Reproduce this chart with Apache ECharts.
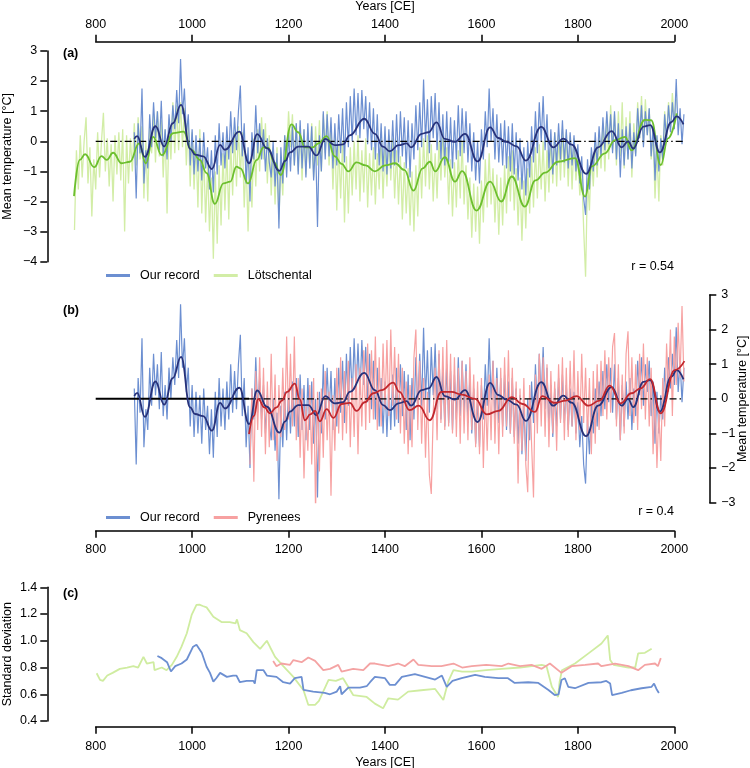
<!DOCTYPE html>
<html><head><meta charset="utf-8">
<script src="https://cdn.jsdelivr.net/npm/echarts@6/dist/echarts.min.js"></script>
<style>html,body{margin:0;padding:0;background:#fff}#c{width:750px;height:768px}</style>
</head><body><div id="c"></div>
<script>
// ---------------- DATA ----------------
const xTicks = [800, 1000, 1200, 1400, 1600, 1800, 2000];

// Our record, annual values [year, °C]
const ourRecordAnnual = [[880,0.3],[884,-1.9],[888,0.6],[892,-0.4],[896,1.75],[900,-1.4],[904,-0.3],[908,-0.9],[912,0.9],[916,-0.2],
[920,1.3],[924,0.1],[928,1.0],[932,-0.3],[936,1.35],[940,-0.5],[944,0.4],[948,-0.6],[952,0.9],[956,0.0],
[960,1.2],[964,0.4],[968,1.7],[972,0.6],[976,2.73],[980,0.9],[984,1.75],[988,0.2],[992,0.9],[996,-0.8],
[1000,0.4],[1004,-1.1],[1008,0.2],[1012,-1.0],[1016,0.1],[1020,-1.3],[1024,0.3],[1028,-0.9],[1032,-0.2],[1036,-1.6],
[1040,-0.3],[1044,-1.7],[1048,0.2],[1052,-1.1],[1056,0.6],[1060,-0.8],[1064,0.3],[1068,-0.9],[1072,0.5],[1076,-0.6],
[1080,1.0],[1084,-0.4],[1088,0.8],[1092,-0.3],[1096,1.0],[1100,1.85],[1104,-0.5],[1108,0.6],[1112,-1.4],[1116,-0.2],
[1120,-2.0],[1124,0.3],[1128,-0.6],[1132,1.2],[1136,-0.4],[1140,0.6],[1144,-0.6],[1148,0.4],[1152,-1.0],[1156,0.1],
[1160,-0.7],[1164,-1.2],[1168,0.0],[1172,-1.5],[1176,-0.4],[1180,-2.9],[1184,-0.2],[1188,-1.4],[1192,0.2],[1196,-1.2],
[1200,0.3],[1204,-1.0],[1208,0.5],[1212,-0.8],[1216,0.6],[1220,-1.1],[1224,0.7],[1228,-0.9],[1232,0.4],[1236,-1.2],
[1240,0.6],[1244,-0.9],[1248,0.5],[1252,-1.3],[1256,0.0],[1260,-2.85],[1264,0.2],[1268,-1.0],[1272,1.0],[1276,-0.6],
[1280,0.9],[1284,-0.5],[1288,0.8],[1292,-0.9],[1296,0.6],[1300,-0.8],[1304,0.9],[1308,-0.4],[1312,1.1],[1316,-0.7],
[1320,1.3],[1324,-0.2],[1328,1.5],[1332,0.0],[1336,1.75],[1340,0.2],[1344,1.6],[1348,0.1],[1352,1.7],[1356,0.4],
[1360,1.5],[1364,-0.1],[1368,1.3],[1372,-0.3],[1376,1.1],[1380,-0.6],[1384,0.9],[1388,-0.8],[1392,0.6],[1396,-1.0],
[1400,0.5],[1404,-1.1],[1408,0.4],[1412,-0.9],[1416,0.7],[1420,-0.8],[1424,0.9],[1428,-0.7],[1432,1.0],[1436,-0.5],
[1440,0.8],[1444,-0.9],[1448,0.7],[1452,-1.2],[1456,0.6],[1460,-0.6],[1464,1.2],[1468,-0.3],[1472,1.3],[1476,-0.2],
[1480,2.05],[1484,0.0],[1488,1.4],[1492,-0.4],[1496,1.5],[1500,0.1],[1504,1.6],[1508,-0.3],[1512,1.3],[1516,-0.6],
[1520,0.9],[1524,-0.8],[1528,1.0],[1532,-0.7],[1536,0.8],[1540,-0.9],[1544,0.7],[1548,-0.6],[1552,1.2],[1556,-0.5],
[1560,1.1],[1564,-0.4],[1568,1.0],[1572,-0.7],[1576,0.6],[1580,-1.0],[1584,0.3],[1588,-1.3],[1592,0.0],[1596,-1.4],
[1600,0.4],[1604,-0.6],[1608,1.0],[1612,-0.2],[1616,1.75],[1620,0.0],[1624,1.1],[1628,-0.6],[1632,0.9],[1636,-0.7],
[1640,0.6],[1644,-0.8],[1648,0.7],[1652,-0.9],[1656,0.5],[1660,-1.0],[1664,0.6],[1668,-1.1],[1672,0.3],[1676,-1.3],
[1680,0.1],[1684,-1.6],[1688,-0.2],[1692,-1.8],[1696,0.0],[1700,-1.2],[1704,0.5],[1708,-0.7],[1712,1.0],[1716,-0.4],
[1720,1.3],[1724,0.0],[1728,1.5],[1732,-0.3],[1736,0.9],[1740,-0.9],[1744,0.4],[1748,-1.1],[1752,0.3],[1756,-0.8],
[1760,0.6],[1764,-0.6],[1768,0.7],[1772,-0.7],[1776,0.4],[1780,-0.9],[1784,0.3],[1788,-0.8],[1792,0.2],[1796,-1.0],
[1800,-0.1],[1804,-1.4],[1808,-0.5],[1812,-1.9],[1816,-2.45],[1820,-0.6],[1824,-1.6],[1828,-0.2],[1832,-1.0],[1836,0.3],
[1840,-0.8],[1844,0.5],[1848,-0.5],[1852,0.8],[1856,-0.3],[1860,1.0],[1864,-0.1],[1868,0.9],[1872,-0.4],[1876,1.0],
[1880,-0.6],[1884,0.6],[1888,-1.2],[1892,0.4],[1896,-0.8],[1900,0.5],[1904,-0.6],[1908,0.6],[1912,-0.9],[1916,0.3],
[1920,-0.5],[1924,1.1],[1928,0.1],[1932,1.2],[1936,-0.2],[1940,1.0],[1944,0.2],[1948,1.1],[1952,-0.5],[1956,0.5],
[1960,-1.3],[1964,0.2],[1968,-1.0],[1972,0.1],[1976,-0.6],[1980,0.9],[1984,0.0],[1988,1.2],[1992,0.3],[1996,1.3],
[2000,0.4],[2004,2.07],[2008,0.2],[2012,1.1],[2016,-0.1],[2020,0.9]];

// Our record, smoothed
const ourRecordSmooth = [[880,0.08],[886,0.17],[902,-0.52],[924,0.5],[942,-0.17],[960,0.6],[977,1.21],[996,-0.25],[1006,-0.44],[1023,-0.5],
[1041,-0.92],[1058,-0.12],[1068,-0.28],[1098,0.32],[1118,-0.73],[1135,0.24],[1155,-0.23],[1181,-0.98],[1193,-0.65],[1203,-0.37],
[1220,-0.18],[1241,-0.18],[1258,-0.47],[1276,0.08],[1296,-0.13],[1313,-0.1],[1327,0.2],[1357,0.75],[1379,0.25],[1396,-0.18],
[1410,-0.33],[1428,-0.13],[1445,-0.07],[1454,-0.2],[1476,0.25],[1490,0.3],[1507,0.63],[1524,0.08],[1545,-0.02],[1566,0.25],
[1592,-0.67],[1618,0.46],[1635,0.11],[1652,-0.02],[1673,-0.17],[1692,-0.64],[1724,0.48],[1749,-0.2],[1770,0.09],[1787,-0.11],
[1817,-1.08],[1842,-0.2],[1870,0.34],[1891,-0.2],[1904,0.0],[1915,-0.24],[1936,0.49],[1950,0.54],[1970,-0.37],[1994,0.64],
[2005,0.83],[2019,0.56]];

// Lötschental, annual
const loetschentalAnnual = [[756,-2.95],[760,-0.3],[764,-1.6],[768,0.2],[772,-1.2],[776,0.0],[780,0.8],[784,-1.4],[788,-0.2],[792,-2.5],
[796,-0.6],[800,-1.6],[804,0.3],[808,-1.2],[812,0.0],[816,0.95],[820,-1.0],[824,0.1],[828,-1.5],[832,-0.1],
[836,-2.0],[840,0.2],[844,-1.1],[848,0.3],[852,-1.3],[856,0.4],[860,-3.0],[864,0.2],[868,-1.4],[872,0.1],
[876,-1.0],[880,0.6],[884,-0.8],[888,0.8],[892,-0.6],[896,0.5],[900,-1.9],[904,0.0],[908,-2.0],[912,0.6],
[916,-0.4],[920,0.9],[924,-0.7],[928,1.0],[932,-0.5],[936,0.7],[940,-1.2],[944,0.4],[948,-2.4],[952,0.5],
[956,-0.6],[960,1.3],[964,-0.4],[968,1.2],[972,-0.3],[976,1.3],[980,-0.2],[984,1.1],[988,-0.8],[992,0.6],
[996,-1.5],[1000,0.3],[1004,-1.6],[1008,0.0],[1012,-2.2],[1016,0.4],[1020,-2.4],[1024,-0.3],[1028,-2.7],[1032,-0.8],
[1036,-3.0],[1040,-1.2],[1044,-3.9],[1048,-1.0],[1052,-3.4],[1056,-0.8],[1060,-2.8],[1064,-0.4],[1068,-2.3],[1072,-0.2],
[1076,-2.6],[1080,0.0],[1084,-1.8],[1088,0.3],[1092,-1.5],[1096,0.5],[1100,-1.2],[1104,0.3],[1108,-2.2],[1112,-0.6],
[1116,-3.0],[1120,-0.7],[1124,-2.2],[1128,0.1],[1132,-1.5],[1136,0.4],[1140,-1.0],[1144,0.8],[1148,-0.6],[1152,0.6],
[1156,-1.4],[1160,0.2],[1164,-1.8],[1168,-0.3],[1172,-2.1],[1176,-0.2],[1180,-2.6],[1184,-0.7],[1188,-1.8],[1192,0.2],
[1196,-0.6],[1200,1.0],[1204,-0.2],[1208,0.9],[1212,-0.8],[1216,0.6],[1220,-1.0],[1224,0.5],[1228,-1.3],[1232,0.4],
[1236,-1.1],[1240,0.3],[1244,-0.9],[1248,0.6],[1252,-1.2],[1256,0.5],[1260,-0.8],[1264,0.7],[1268,-1.0],[1272,0.9],
[1276,-0.4],[1280,1.0],[1284,-0.8],[1288,0.5],[1292,-1.6],[1296,0.2],[1300,-2.3],[1304,-0.1],[1308,-1.9],[1312,0.0],
[1316,-2.7],[1320,-0.5],[1324,-2.4],[1328,-0.2],[1332,-1.8],[1336,0.0],[1340,-1.6],[1344,0.2],[1348,-2.0],[1352,-0.3],
[1356,-1.7],[1360,0.1],[1364,-2.2],[1368,-0.4],[1372,-1.8],[1376,-0.2],[1380,-2.1],[1384,-0.4],[1388,-1.6],[1392,0.1],
[1396,-1.9],[1400,-0.2],[1404,-1.5],[1408,0.2],[1412,-1.3],[1416,0.1],[1420,-1.9],[1424,-0.3],[1428,-2.1],[1432,-0.5],
[1436,-2.6],[1440,-0.7],[1444,-2.4],[1448,-0.9],[1452,-2.8],[1456,-1.0],[1460,-3.0],[1464,-0.8],[1468,-2.5],[1472,-0.2],
[1476,-1.9],[1480,0.1],[1484,-1.5],[1488,0.2],[1492,-1.6],[1496,-0.1],[1500,-2.0],[1504,-0.4],[1508,-1.9],[1512,0.0],
[1516,-1.3],[1520,0.3],[1524,-1.2],[1528,-0.2],[1532,-2.1],[1536,-0.6],[1540,-2.5],[1544,-0.7],[1548,-2.2],[1552,-0.3],
[1556,-1.9],[1560,0.0],[1564,-2.1],[1568,-0.8],[1572,-2.6],[1576,-1.2],[1580,-3.2],[1584,-1.4],[1588,-3.0],[1592,-1.5],
[1596,-3.4],[1600,-1.3],[1604,-2.7],[1608,-0.6],[1612,-2.2],[1616,-0.4],[1620,-2.1],[1624,-0.9],[1628,-2.7],[1632,-1.1],
[1636,-3.1],[1640,-1.2],[1644,-2.8],[1648,-0.8],[1652,-2.4],[1656,-0.5],[1660,-2.0],[1664,-0.3],[1668,-2.3],[1672,-0.9],
[1676,-2.8],[1680,-1.2],[1684,-3.3],[1688,-1.3],[1692,-2.9],[1696,-0.9],[1700,-2.4],[1704,-0.5],[1708,-2.2],[1712,-0.2],
[1716,-1.9],[1720,-0.1],[1724,-1.6],[1728,0.0],[1732,-2.0],[1736,-0.3],[1740,-1.7],[1744,0.1],[1748,-1.4],[1752,0.3],
[1756,-1.5],[1760,0.2],[1764,-1.3],[1768,0.4],[1772,-1.2],[1776,0.3],[1780,-1.5],[1784,0.2],[1788,-1.6],[1792,0.1],
[1796,-1.3],[1800,-0.4],[1804,-1.8],[1808,-1.0],[1812,-2.9],[1816,-4.5],[1820,-1.2],[1824,-2.3],[1828,-0.4],[1832,-1.5],
[1836,0.0],[1840,-1.2],[1844,0.3],[1848,-0.9],[1852,0.6],[1856,-1.0],[1860,0.9],[1864,-0.6],[1868,1.2],[1872,-0.3],
[1876,0.9],[1880,-0.8],[1884,1.0],[1888,-0.5],[1892,1.3],[1896,-0.9],[1900,0.8],[1904,-0.6],[1908,1.0],[1912,-1.2],
[1916,0.6],[1920,-0.4],[1924,1.3],[1928,0.1],[1932,1.5],[1936,-0.1],[1940,1.4],[1944,0.2],[1948,1.1],[1952,-0.6],
[1956,0.3],[1960,-1.9],[1964,-0.3],[1968,-2.0],[1972,0.2],[1976,-0.8],[1980,1.0],[1984,0.2],[1988,1.3],[1992,0.4],
[1996,1.6],[2000,0.6],[2004,1.4]];

// Lötschental, smoothed
const loetschentalSmooth = [[755,-1.82],[767,-0.62],[778,-0.43],[797,-0.86],[812,-0.49],[823,-0.62],[836,-0.38],[854,-0.73],[871,-0.68],[890,-0.07],
[904,-0.73],[919,0.15],[937,-0.46],[961,0.27],[982,0.32],[999,-0.29],[1016,-0.62],[1030,-1.06],[1047,-2.08],[1065,-1.4],
[1079,-1.34],[1092,-0.84],[1100,-0.9],[1116,-1.4],[1134,-0.62],[1148,-0.2],[1158,-0.22],[1170,-0.7],[1184,-1.12],[1206,0.56],
[1220,0.3],[1234,-0.2],[1250,-0.2],[1262,-0.07],[1279,0.17],[1296,-0.5],[1310,-0.75],[1324,-1.0],[1341,-0.7],[1360,-0.8],
[1379,-1.0],[1400,-0.8],[1421,-0.73],[1440,-0.95],[1459,-1.64],[1478,-0.9],[1493,-0.68],[1504,-1.0],[1524,-0.53],[1545,-1.34],
[1560,-0.99],[1590,-2.3],[1618,-1.34],[1641,-2.0],[1663,-1.17],[1690,-2.17],[1712,-1.3],[1732,-1.04],[1759,-0.68],[1794,-0.56],
[1815,-1.84],[1829,-0.83],[1856,-0.4],[1877,0.04],[1898,0.15],[1911,-0.3],[1939,0.71],[1952,0.7],[1972,-0.79],[1987,0.1],
[2005,0.93]];

// Pyrenees, annual
const pyreneesAnnual = [[1120,-1.9],[1124,0.3],[1128,-2.4],[1132,0.8],[1136,-0.9],[1140,1.2],[1144,-1.1],[1148,0.9],[1152,-1.6],[1156,0.5],
[1160,-1.4],[1164,1.3],[1168,-1.2],[1172,0.7],[1176,-1.8],[1180,0.4],[1184,-1.1],[1188,0.9],[1192,-0.9],[1196,1.8],
[1200,-0.6],[1204,1.3],[1208,-0.8],[1212,1.8],[1216,-1.2],[1220,0.6],[1224,-1.7],[1228,0.3],[1232,-2.3],[1236,-0.2],
[1240,-1.5],[1244,0.4],[1248,-1.9],[1252,0.6],[1256,-3.3],[1260,0.2],[1264,-2.1],[1268,0.3],[1272,-1.7],[1276,0.8],
[1280,-1.2],[1284,0.2],[1288,-2.8],[1292,0.1],[1296,-1.5],[1300,0.9],[1304,-1.0],[1308,1.2],[1312,-1.2],[1316,0.8],
[1320,-1.0],[1324,1.1],[1328,-1.4],[1332,0.6],[1336,-1.1],[1340,1.0],[1344,-1.6],[1348,0.9],[1352,-0.8],[1356,1.4],
[1360,-0.9],[1364,1.6],[1368,-0.7],[1372,1.4],[1376,-0.6],[1380,1.8],[1384,-0.9],[1388,1.2],[1392,-0.8],[1396,1.6],
[1400,-0.3],[1404,1.7],[1408,-0.5],[1412,2.0],[1416,-0.2],[1420,1.5],[1424,-0.6],[1428,1.3],[1432,-1.0],[1436,0.9],
[1440,-1.3],[1444,0.5],[1448,-1.6],[1452,0.4],[1456,-1.4],[1460,1.2],[1464,2.0],[1468,-0.9],[1472,1.1],[1476,-1.3],
[1480,0.6],[1484,-1.7],[1488,0.2],[1492,-2.2],[1496,-2.75],[1500,-0.4],[1504,0.9],[1508,-1.2],[1512,1.4],[1516,-0.7],
[1520,1.5],[1524,-0.9],[1528,1.7],[1532,-0.8],[1536,1.3],[1540,-1.0],[1544,1.2],[1548,-1.1],[1552,0.9],[1556,-1.3],
[1560,1.1],[1564,-1.0],[1568,0.8],[1572,-1.2],[1576,1.2],[1580,-0.9],[1584,0.7],[1588,-1.4],[1592,0.5],[1596,-1.6],
[1600,0.6],[1604,-2.0],[1608,0.2],[1612,-1.5],[1616,0.7],[1620,-1.2],[1624,1.1],[1628,-1.3],[1632,0.6],[1636,-1.6],
[1640,0.9],[1644,-1.1],[1648,1.2],[1652,-0.8],[1656,1.4],[1660,-1.0],[1664,0.9],[1668,-1.3],[1672,0.5],[1676,-2.45],
[1680,0.3],[1684,-1.5],[1688,0.6],[1692,-1.9],[1696,-2.7],[1700,0.4],[1704,-1.3],[1708,-2.85],[1712,0.7],[1716,-1.0],
[1720,1.3],[1724,-0.8],[1728,1.2],[1732,-1.1],[1736,1.0],[1740,-1.4],[1744,0.8],[1748,-1.0],[1752,0.5],[1756,-1.5],
[1760,1.0],[1764,-0.7],[1768,1.2],[1772,-1.2],[1776,0.9],[1780,-1.1],[1784,1.1],[1788,-0.8],[1792,1.4],[1796,-1.2],
[1800,0.8],[1804,-0.9],[1808,1.3],[1812,-0.7],[1816,0.9],[1820,-1.1],[1824,0.6],[1828,-1.6],[1832,0.8],[1836,-1.3],
[1840,1.0],[1844,-0.9],[1848,1.1],[1852,-0.5],[1856,1.4],[1860,-0.6],[1864,1.2],[1868,-0.4],[1872,1.5],[1876,1.9],
[1880,-0.8],[1884,1.0],[1888,-1.2],[1892,0.7],[1896,-1.0],[1900,1.3],[1904,1.95],[1908,-0.5],[1912,1.2],[1916,-0.7],
[1920,1.0],[1924,-0.9],[1928,1.3],[1932,-0.3],[1936,1.6],[1940,-0.6],[1944,1.2],[1948,-0.8],[1952,0.9],[1956,-1.6],
[1960,0.2],[1964,-2.0],[1968,-0.3],[1972,-1.8],[1976,0.6],[1980,-0.8],[1984,1.6],[1988,0.2],[1992,2.0],[1996,-0.5],
[2000,1.8],[2004,0.4],[2008,2.2],[2012,0.6],[2016,2.68],[2020,0.5]];

// Pyrenees, smoothed
const pyreneesSmooth = [[1118,-1.02],[1128,-0.5],[1137,0.0],[1150,-0.25],[1161,-0.42],[1175,-0.25],[1186,-0.05],[1197,0.2],[1213,0.44],[1223,0.0],
[1234,-0.62],[1245,-0.45],[1255,-0.35],[1265,-0.65],[1279,-0.3],[1293,-0.55],[1310,-0.15],[1327,-0.12],[1341,-0.35],[1358,-0.1],
[1376,0.16],[1393,0.25],[1417,0.47],[1430,0.2],[1451,-0.33],[1470,-0.2],[1493,-0.62],[1517,0.2],[1538,0.2],[1559,0.12],
[1587,0.0],[1611,-0.45],[1635,-0.35],[1663,0.05],[1685,-0.15],[1711,-0.38],[1726,0.08],[1752,-0.12],[1775,-0.05],[1797,0.08],
[1822,-0.2],[1845,-0.05],[1866,0.38],[1889,-0.13],[1911,0.16],[1930,0.3],[1950,0.57],[1972,-0.42],[2001,0.83],[2021,1.09]];

// Zero reference lines (years)
const zeroLineA = [[800,0],[2020,0]];
const zeroSolidB = [[800,0],[1118,0]];
const zeroDashB = [[1118,0],[2020,0]];

// Panel (c): running standard deviation
const sdOurRecord = [[928,0.886],[937,0.87],[948,0.84],[956,0.77],[965,0.81],[978,0.83],[989,0.86],[1002,0.956],[1009,0.97],[1020,0.91],
[1030,0.806],[1037,0.76],[1044,0.694],[1050,0.72],[1058,0.76],[1072,0.73],[1085,0.74],[1092,0.74],[1099,0.69],[1113,0.70],
[1127,0.70],[1130,0.68],[1134,0.78],[1148,0.78],[1155,0.74],[1175,0.73],[1189,0.69],[1203,0.68],[1213,0.72],[1227,0.73],
[1231,0.632],[1251,0.62],[1275,0.61],[1286,0.60],[1300,0.62],[1307,0.66],[1310,0.60],[1324,0.65],[1348,0.65],[1362,0.66],
[1369,0.69],[1379,0.73],[1400,0.72],[1410,0.67],[1421,0.67],[1435,0.73],[1462,0.75],[1483,0.73],[1504,0.71],[1518,0.74],
[1528,0.656],[1540,0.70],[1559,0.72],[1587,0.745],[1607,0.73],[1635,0.72],[1655,0.72],[1669,0.685],[1697,0.69],[1718,0.685],
[1739,0.632],[1752,0.594],[1760,0.60],[1766,0.707],[1773,0.72],[1780,0.656],[1794,0.645],[1822,0.685],[1849,0.69],[1859,0.70],
[1867,0.68],[1871,0.594],[1891,0.61],[1910,0.63],[1932,0.645],[1953,0.656],[1958,0.68],[1963,0.64],[1968,0.61]];

const sdLoetschental = [[802,0.757],[809,0.707],[815,0.70],[824,0.74],[835,0.76],[850,0.79],[865,0.80],[878,0.81],[888,0.80],[899,0.88],
[906,0.83],[920,0.84],[922,0.78],[937,0.80],[947,0.78],[958,0.82],[968,0.88],[978,0.956],[989,1.056],[999,1.193],
[1009,1.268],[1015,1.27],[1022,1.26],[1030,1.25],[1044,1.18],[1061,1.14],[1078,1.14],[1090,1.13],[1093,1.16],[1099,1.08],
[1113,1.056],[1127,0.99],[1141,0.94],[1155,1.0],[1162,0.95],[1172,0.88],[1189,0.81],[1210,0.73],[1231,0.63],[1241,0.52],
[1255,0.52],[1263,0.55],[1283,0.707],[1298,0.70],[1313,0.72],[1334,0.594],[1362,0.58],[1379,0.53],[1396,0.495],[1407,0.57],
[1427,0.56],[1448,0.62],[1475,0.63],[1504,0.64],[1521,0.557],[1531,0.694],[1542,0.78],[1560,0.77],[1580,0.77],[1610,0.78],
[1642,0.79],[1680,0.80],[1725,0.82],[1735,0.81],[1746,0.656],[1759,0.58],[1762,0.69],[1767,0.78],[1794,0.83],[1822,0.906],
[1849,0.98],[1862,1.04],[1867,0.856],[1874,0.82],[1905,0.80],[1919,0.80],[1925,0.906],[1939,0.91],[1953,0.94]];

const sdPyrenees = [[1168,0.849],[1175,0.81],[1185,0.83],[1203,0.82],[1210,0.856],[1227,0.84],[1241,0.875],[1255,0.85],[1272,0.78],[1286,0.79],
[1303,0.82],[1310,0.77],[1334,0.79],[1355,0.78],[1369,0.83],[1379,0.83],[1407,0.81],[1427,0.83],[1441,0.81],[1459,0.86],
[1469,0.82],[1497,0.81],[1517,0.81],[1542,0.83],[1560,0.80],[1580,0.81],[1610,0.82],[1642,0.81],[1656,0.83],[1680,0.81],
[1704,0.82],[1725,0.79],[1742,0.83],[1766,0.76],[1787,0.81],[1815,0.82],[1842,0.83],[1849,0.81],[1877,0.83],[1905,0.81],
[1925,0.78],[1939,0.82],[1960,0.83],[1966,0.81],[1972,0.87]];

const corrA = 'r = 0.54';
const corrB = 'r = 0.4';

// ---------------- LAYOUT / STYLE ----------------
const FONT = '"Liberation Sans", Arial, Helvetica, sans-serif';
const C = {
  blue: '#6c8fd1', blueDark: '#27327a',
  green: '#d2eda6', greenDark: '#6cbf2e',
  pink: '#f7a1a1', redDark: '#c1272d',
  sdGreen: '#cfeca0', sdRed: '#f4a3a3'
};
const PX_PER_YEAR = 578.6 / 1200;
const X800 = 95.7;
const XMIN = 745, XMAX = 2030;
const dataLeft = X800 - (800 - XMIN) * PX_PER_YEAR;
const dataWidth = (XMAX - XMIN) * PX_PER_YEAR;
const AX_W = 578.6;

const gBase = {containLabel: false, outerBoundsMode: 'none'};
const grids = [
  {left: dataLeft, width: dataWidth, top: 51, height: 7.6 * 30.1},   // 0 A data (-4.6..3)
  {left: X800, width: AX_W, top: 51, height: 210.7},                 // 1 A axes
  {left: dataLeft, width: dataWidth, top: 295, height: 207.6},       // 2 B data
  {left: X800, width: AX_W, top: 295, height: 207.6},                // 3 B axes
  {left: dataLeft, width: dataWidth, top: 587.3, height: 133.7},     // 4 C data
  {left: X800, width: AX_W, top: 587.3, height: 133.7}               // 5 C axes
].map(g => Object.assign({}, gBase, g));

const axisLine = {show: true, onZero: false, lineStyle: {color: '#000', width: 1.5}};
const axisTick = {show: true, length: 7, lineStyle: {color: '#000', width: 1.5}};
const lbl = (m, fmt) => ({show: true, color: '#000', fontSize: 12.5, fontFamily: FONT, margin: m, formatter: fmt, showMinLabel: true, showMaxLabel: true, hideOverlap: false});
const minusFmt = v => String(v).replace('-', '\u2212');
const plainFmt = v => String(v);
const hiddenX = {type: 'value', show: false, min: XMIN, max: XMAX};
const nameStyle = {color: '#000', fontSize: 12.5, fontFamily: FONT};
const nm = (name, gap) => ({name, nameLocation: 'middle', nameGap: gap, nameTextStyle: nameStyle, nameMoveOverlap: false});

const xAxis = [
  Object.assign({gridIndex: 0}, hiddenX),
  Object.assign({gridIndex: 1, type: 'value', position: 'top', offset: 9.3, min: 800, max: 2000, interval: 200,
   axisLine, axisTick, axisLabel: lbl(11, plainFmt), splitLine: {show: false}}, nm('Years [CE]', 29)),
  Object.assign({gridIndex: 2}, hiddenX),
  {gridIndex: 3, type: 'value', position: 'bottom', offset: 28.1, min: 800, max: 2000, interval: 200,
   axisLine, axisTick, axisLabel: lbl(12, plainFmt), splitLine: {show: false}},
  Object.assign({gridIndex: 4}, hiddenX),
  Object.assign({gridIndex: 5, type: 'value', position: 'bottom', offset: 5.7, min: 800, max: 2000, interval: 200,
   axisLine, axisTick, axisLabel: lbl(13, plainFmt), splitLine: {show: false}}, nm('Years [CE]', 29))
];
const yAxis = [
  {gridIndex: 0, type: 'value', show: false, min: -4.6, max: 3},
  Object.assign({gridIndex: 1, type: 'value', position: 'left', offset: 48.4, min: -4, max: 3, interval: 1,
   axisLine, axisTick, axisLabel: lbl(10, minusFmt), splitLine: {show: false}, nameRotate: 90},
   nm('Mean temperature [°C]', 33)),
  {gridIndex: 2, type: 'value', show: false, min: -3, max: 3},
  Object.assign({gridIndex: 3, type: 'value', position: 'right', offset: 35, min: -3, max: 3, interval: 1,
   axisLine, axisTick, axisLabel: lbl(12, minusFmt), splitLine: {show: false}, nameRotate: 90},
   nm('Mean temperature [°C]', 27)),
  {gridIndex: 4, type: 'value', show: false, min: 0.4, max: 1.4},
  Object.assign({gridIndex: 5, type: 'value', position: 'left', offset: 48.4, min: 0.4, max: 1.4, interval: 0.2,
   axisLine, axisTick, axisLabel: lbl(10, v => v.toFixed(1)), splitLine: {show: false}, nameRotate: 90},
   nm('Standard deviation', 33))
];

function line(name, data, gi, color, width, opts) {
  return Object.assign({
    type: 'line', name, data, xAxisIndex: gi, yAxisIndex: gi,
    symbol: 'none', showSymbol: false, silent: true, animation: false,
    lineStyle: {color, width}, itemStyle: {color}
  }, opts || {});
}
const sm = {smooth: 0.45, smoothMonotone: 'x'};
const dashDot = [7, 3, 1.5, 3];

const series = [
  // panel (a)
  line('Lötschental', loetschentalAnnual, 0, C.green, 1.3),
  line('Our record', ourRecordAnnual, 0, C.blue, 1.2),
  line('zeroA', zeroLineA, 0, '#000', 1.3, {lineStyle: {color: '#000', width: 1.3, type: dashDot}}),
  line('Lötschental smooth', loetschentalSmooth, 0, C.greenDark, 1.8, sm),
  line('Our record smooth', ourRecordSmooth, 0, C.blueDark, 1.8, sm),
  // panel (b)
  line('Our record', ourRecordAnnual, 2, C.blue, 1.2),
  line('Pyrenees', pyreneesAnnual, 2, C.pink, 1.2),
  line('zeroB1', zeroSolidB, 2, '#000', 2),
  line('zeroB2', zeroDashB, 2, '#000', 1.3, {lineStyle: {color: '#000', width: 1.3, type: dashDot}}),
  line('Our record smooth b', ourRecordSmooth, 2, C.blueDark, 1.8, sm),
  line('Pyrenees smooth', pyreneesSmooth, 2, C.redDark, 1.8, sm),
  // panel (c)
  line('sd L', sdLoetschental, 4, C.sdGreen, 1.8),
  line('sd P', sdPyrenees, 4, C.sdRed, 1.8),
  line('sd O', sdOurRecord, 4, C.blue, 1.8)
];

const legendBase = {
  orient: 'horizontal', itemWidth: 24, itemHeight: 3, itemGap: 14, icon: 'rect', padding: 0,
  selectedMode: false, textStyle: {fontSize: 12.5, color: '#000', fontFamily: FONT, padding: [0, 0, 0, 5]}
};
const legend = [
  Object.assign({left: 106, top: 269, data: ['Our record', 'Lötschental']}, legendBase),
  Object.assign({left: 106, top: 511, data: ['Our record', 'Pyrenees']}, legendBase)
];

const txt = (x, y, text, align, bold) => ({
  type: 'text', x, y, silent: true,
  style: {text, fill: '#000', font: (bold ? 'bold ' : '') + '12.5px ' + FONT, textAlign: align, textVerticalAlign: 'middle'}
});
const graphic = [
  txt(63, 54, '(a)', 'left', true),
  txt(63, 311, '(b)', 'left', true),
  txt(63, 594, '(c)', 'left', true),
  txt(674, 267, corrA, 'right'),
  txt(674, 512, corrB, 'right')
];

const chart = echarts.init(document.getElementById('c'), null, {renderer: 'canvas'});
chart.setOption({animation: false, backgroundColor: '#fff', grid: grids, xAxis, yAxis, series, legend, graphic});
</script></body></html>
